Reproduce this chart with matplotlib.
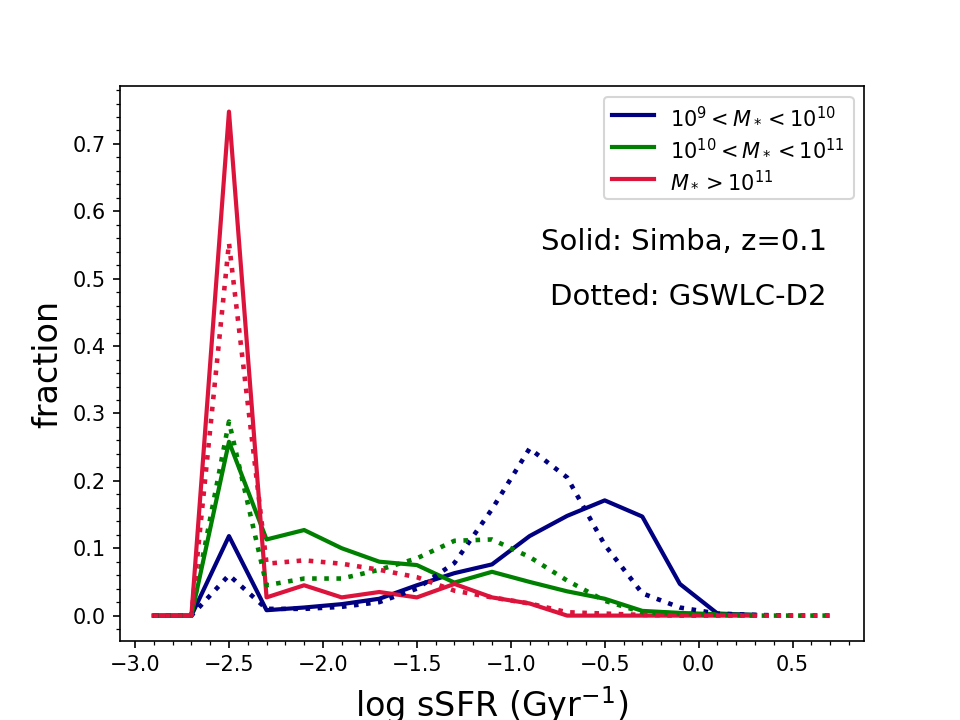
import matplotlib
matplotlib.use('Agg')
import matplotlib.pyplot as plt
import numpy as np

# bin centres of log sSFR
x_simba = np.round(np.arange(-2.9, 0.31, 0.2), 2)
x_obs = np.round(np.arange(-2.9, 0.71, 0.2), 2)

# Simba, z=0.1 (solid)
simba_low = [0, 0, 0.118, 0.008, 0.012, 0.017, 0.025, 0.045, 0.063, 0.076, 0.118,
             0.148, 0.171, 0.147, 0.047, 0.003, 0.001]
simba_mid = [0, 0, 0.258, 0.113, 0.127, 0.100, 0.080, 0.075, 0.049, 0.065, 0.050,
             0.036, 0.025, 0.007, 0.004, 0.002, 0.001]
simba_high = [0, 0, 0.748, 0.027, 0.045, 0.027, 0.035, 0.027, 0.047, 0.027, 0.018,
              0.0, 0.0, 0.0, 0.0, 0.0, 0.0]

# GSWLC-D2 (dotted)
obs_low = [0, 0, 0.060, 0.010, 0.010, 0.013, 0.020, 0.040, 0.078, 0.158, 0.248,
           0.205, 0.105, 0.033, 0.012, 0.003, 0.001, 0.0, 0.0]
obs_mid = [0, 0, 0.288, 0.045, 0.055, 0.055, 0.068, 0.085, 0.111, 0.113, 0.087,
           0.052, 0.022, 0.005, 0.003, 0.001, 0.0, 0.0, 0.0]
obs_high = [0, 0, 0.553, 0.077, 0.082, 0.077, 0.068, 0.057, 0.037, 0.027, 0.018,
            0.005, 0.003, 0.001, 0.0, 0.0, 0.0, 0.0, 0.0]

labels = [r'$10^9<M_*<10^{10}$', r'$10^{10}<M_*<10^{11}$', r'$M_*>10^{11}$']
colors = ['navy', 'green', 'crimson']

fig, ax = plt.subplots(figsize=(6.4, 4.8), dpi=150)

for ys, c, lab in zip([simba_low, simba_mid, simba_high], colors, labels):
    ax.plot(x_simba, ys, color=c, lw=2, label=lab)
for ys, c in zip([obs_low, obs_mid, obs_high], colors):
    ax.plot(x_obs, ys, color=c, lw=2.2, ls=':')

ax.legend(loc='upper right')
ax.minorticks_on()
ax.set_xlabel(r'log sSFR (Gyr$^{-1}$)', fontsize=16)
ax.set_ylabel('fraction', fontsize=16)
ax.text(0.95, 0.72, 'Solid: Simba, z=0.1', transform=ax.transAxes, ha='right', va='center', fontsize=14)
ax.text(0.95, 0.62, 'Dotted: GSWLC-D2', transform=ax.transAxes, ha='right', va='center', fontsize=14)

plt.savefig('out.png', dpi=150)
